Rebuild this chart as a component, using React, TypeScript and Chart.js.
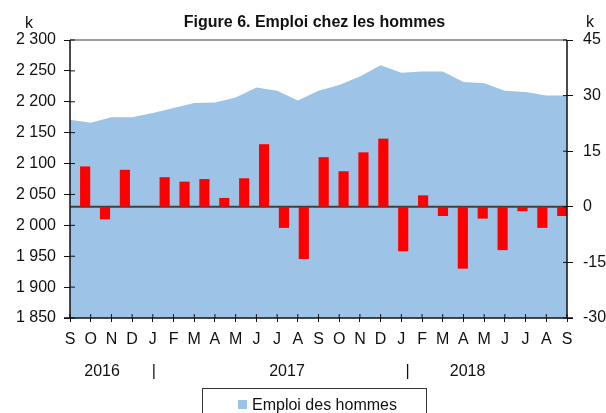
import React, { useEffect, useRef } from "react";
import { Chart, registerables } from "chart.js";

Chart.register(...registerables);

// ---- Data ----
const months = ["S", "O", "N", "D", "J", "F", "M", "A", "M", "J", "J", "A", "S", "O", "N", "D", "J", "F", "M", "A", "M", "J", "J", "A", "S"];
const employment = [2171, 2166, 2175, 2175, 2182, 2190, 2198, 2199, 2207, 2223, 2218, 2202, 2218, 2227, 2241, 2259, 2247, 2249, 2249, 2232, 2230, 2218, 2216, 2210, 2210];
const changeSlots = ["2016-08", "2016-09", "2016-10", "2016-11", "2016-12", "2017-01", "2017-02", "2017-03", "2017-04", "2017-05", "2017-06", "2017-07", "2017-08", "2017-09", "2017-10", "2017-11", "2017-12", "2018-01", "2018-02", "2018-03", "2018-04", "2018-05", "2018-06", "2018-07", "2018-08", "2018-09"];
const monthlyChange = [null, 10.8, -3.3, 9.9, null, 7.9, 6.7, 7.4, 2.3, 7.6, 16.8, -5.6, -14.0, 13.3, 9.5, 14.6, 18.3, -11.9, 3.0, -2.4, -16.6, -3.1, -11.6, -1.1, -5.6, -2.4];
const leftMin = 1850;
const leftMax = 2300;
const leftStep = 50;
const rightMin = -30;
const rightMax = 45;
const rightStep = 15;
const yearLabels = ["2016", "|", "2017", "|", "2018"];
const title = "Figure 6. Emploi chez les hommes";
const unitLabel = "k";
const seriesName = "Emploi des hommes";

const FONT = '"Liberation Sans", Arial, Helvetica, sans-serif';
const AREA_COLOR = "#9DC3E6";
const BAR_COLOR = "#FF0000";

const fmt = (v: number) => {
  const s = Math.abs(v).toString();
  const out = s.replace(/\B(?=(\d{3})+(?!\d))/g, " ");
  return (v < 0 ? "-" : "") + out;
};

const decorPlugin = {
  id: "decor",
  afterDatasetDraw(chart: any, args: any) {
    if (args.meta.type !== "line") return;
    const { ctx, chartArea } = chart;
    const y0 = chart.scales.y2.getPixelForValue(0);
    ctx.save();
    ctx.strokeStyle = "#404040";
    ctx.lineWidth = 2;
    ctx.beginPath();
    ctx.moveTo(chartArea.left, y0);
    ctx.lineTo(chartArea.right, y0);
    ctx.stroke();
    ctx.restore();
  },
  afterDraw(chart: any) {
    const { ctx, chartArea } = chart;
    const { left, right, top, bottom } = chartArea;
    const xs = chart.scales.x;
    const ys = chart.scales.y;
    const y2 = chart.scales.y2;
    ctx.save();
    // top border
    ctx.strokeStyle = "#7f7f7f";
    ctx.lineWidth = 1.5;
    ctx.beginPath();
    ctx.moveTo(left, top);
    ctx.lineTo(right, top);
    ctx.stroke();
    // axis lines
    ctx.strokeStyle = "#111";
    ctx.lineWidth = 1.5;
    ctx.beginPath();
    ctx.moveTo(left, top);
    ctx.lineTo(left, bottom);
    ctx.moveTo(right, top);
    ctx.lineTo(right, bottom);
    ctx.moveTo(left - 6, bottom);
    ctx.lineTo(right + 6, bottom);
    ctx.stroke();
    // inner tick marks
    ctx.lineWidth = 1;
    ctx.beginPath();
    ys.ticks.forEach((t: any) => {
      const p = ys.getPixelForValue(t.value);
      ctx.moveTo(left, p);
      ctx.lineTo(left + 5, p);
    });
    y2.ticks.forEach((t: any) => {
      const p = y2.getPixelForValue(t.value);
      ctx.moveTo(right - 4, p);
      ctx.lineTo(right, p);
    });
    months.forEach((_, i) => {
      const p = xs.getPixelForValue(i);
      ctx.moveTo(p, bottom - 4);
      ctx.lineTo(p, bottom);
    });
    ctx.stroke();

    ctx.fillStyle = "#111";
    // title
    ctx.font = `bold 16px ${FONT}`;
    ctx.textAlign = "center";
    ctx.textBaseline = "alphabetic";
    ctx.fillText(title, (left + right) / 2 - 4, 26.5);
    // unit labels
    ctx.font = `16px ${FONT}`;
    ctx.fillText(unitLabel, 29, 28);
    ctx.fillText(unitLabel, 590, 26.5);
    // year row
    const yearPos = [1.55, 4.05, 10.48, 16.3, 19.2];
    yearLabels.forEach((lab, i) => {
      ctx.fillText(lab, xs.getPixelForValue(yearPos[i]), 376);
    });
    // legend
    ctx.strokeStyle = "#333";
    ctx.lineWidth = 1;
    ctx.strokeRect(202.5, 388.5, 224, 40);
    ctx.fillStyle = AREA_COLOR;
    ctx.fillRect(238, 400, 9, 9);
    ctx.fillStyle = "#111";
    ctx.textAlign = "left";
    ctx.fillText(seriesName, 252, 410);
    ctx.restore();
  },
};

export default function App() {
  const ref = useRef<HTMLCanvasElement | null>(null);
  useEffect(() => {
    if (!ref.current) return;
    Chart.defaults.font.family = FONT;
    const chart = new Chart(ref.current, {
      type: "bar",
      data: {
        labels: months,
        datasets: [
          {
            type: "bar",
            label: "Variation mensuelle",
            data: monthlyChange as any,
            xAxisID: "xb",
            yAxisID: "y2",
            backgroundColor: BAR_COLOR,
            borderWidth: 0,
            barThickness: 9.5,
            order: 1,
          } as any,
          {
            type: "line",
            label: seriesName,
            data: employment,
            xAxisID: "x",
            yAxisID: "y",
            backgroundColor: AREA_COLOR,
            borderColor: "transparent",
            borderWidth: 0,
            pointRadius: 0,
            fill: "start",
            tension: 0,
            order: 2,
          } as any,
        ],
      },
      options: {
        animation: false,
        responsive: false,
        maintainAspectRatio: false,
        devicePixelRatio: 1,
        layout: { padding: { top: 40, left: 0, right: 0, bottom: 0 } },
        plugins: {
          legend: { display: false },
          tooltip: { enabled: false },
          title: { display: false },
        },
        scales: {
          x: {
            type: "category",
            labels: months,
            offset: false,
            position: "bottom",
            grid: { display: true, drawOnChartArea: false, drawTicks: true, tickLength: 4, color: "#111", offset: false },
            border: { display: false },
            ticks: {
              autoSkip: false,
              maxRotation: 0,
              minRotation: 0,
              padding: 8,
              color: "#111",
              font: { size: 16, family: FONT },
            },
            afterFit: (s: any) => {
              s.height = 95;
            },
          },
          xb: {
            type: "category",
            labels: changeSlots,
            offset: false,
            display: false,
            grid: { offset: false },
          },
          y: {
            type: "linear",
            position: "left",
            min: leftMin,
            max: leftMax,
            grid: { display: true, drawOnChartArea: false, drawTicks: true, tickLength: 6, color: "#111" },
            border: { display: false },
            ticks: {
              stepSize: leftStep,
              padding: 8,
              color: "#111",
              font: { size: 16, family: FONT },
              callback: (v: any) => fmt(Number(v)),
            },
            afterFit: (s: any) => {
              s.width = 70;
            },
          },
          y2: {
            type: "linear",
            position: "right",
            min: rightMin,
            max: rightMax,
            grid: { display: true, drawOnChartArea: false, drawTicks: true, tickLength: 6, color: "#111" },
            border: { display: false },
            ticks: {
              stepSize: rightStep,
              padding: 10,
              color: "#111",
              font: { size: 16, family: FONT },
              callback: (v: any) => fmt(Number(v)),
            },
            afterFit: (s: any) => {
              s.width = 39;
            },
          },
        },
      } as any,
      plugins: [decorPlugin],
    });
    return () => chart.destroy();
  }, []);

  return (
    <div style={{ position: "fixed", left: 0, top: 0, width: 606, height: 413, background: "#fff" }}>
      <canvas ref={ref} width={606} height={413} style={{ width: 606, height: 413, display: "block" }} />
    </div>
  );
}
